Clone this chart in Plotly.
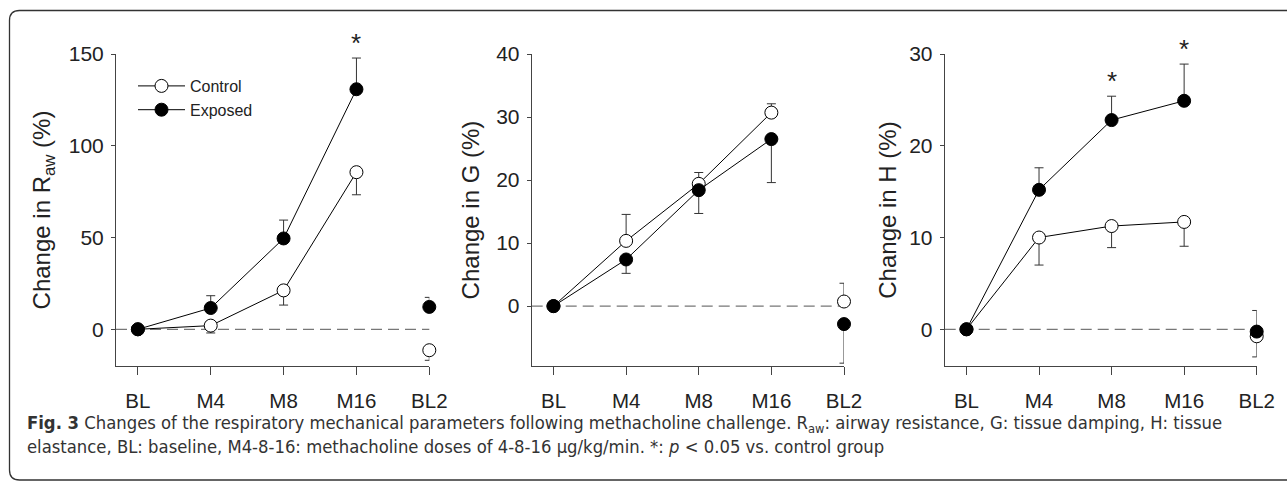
import plotly.graph_objects as go

W, H = 1287, 481

categories = ["BL", "M4", "M8", "M16", "BL2"]

# Panel 1: Raw
raw_control = [0, 2.0, 21.2, 85.6, -11.4]
raw_control_err = [0, 4.0, 8.0, 12.3, 5.5]
raw_exposed = [0, 11.6, 49.5, 130.8, 12.2]
raw_exposed_err = [0, 6.7, 10.0, 17.0, 5.2]

# Panel 2: G
g_control = [0, 10.35, 19.4, 30.7, 0.73]
g_control_err = [0, 4.2, 1.8, 1.4, 2.9]
g_exposed = [0, 7.4, 18.4, 26.5, -2.85]
g_exposed_err = [0, 2.2, 3.7, 6.9, 6.2]

# Panel 3: H
h_control = [0, 10.0, 11.25, 11.7, -0.76]
h_control_err = [0, 3.0, 2.35, 2.65, 2.25]
h_exposed = [0, 15.2, 22.8, 24.9, -0.25]
h_exposed_err = [0, 2.4, 2.6, 4.0, 2.3]

# direction of one-sided error bars: +1 up, -1 down
panels = [
    dict(c=raw_control, ce=raw_control_err, cdir=-1,
         e=raw_exposed, ee=raw_exposed_err, edir=1,
         title="Change in R<sub>aw</sub> (%)", yrange=[-20, 150],
         ticks=[0, 50, 100, 150], stars=["M16"], standoff=11),
    dict(c=g_control, ce=g_control_err, cdir=1,
         e=g_exposed, ee=g_exposed_err, edir=-1,
         title="Change in G (%)", yrange=[-9.5, 40],
         ticks=[0, 10, 20, 30, 40], stars=[], standoff=9),
    dict(c=h_control, ce=h_control_err, cdir=-1,
         e=h_exposed, ee=h_exposed_err, edir=1,
         title="Change in H (%)", yrange=[-4, 30],
         ticks=[0, 10, 20, 30], stars=["M8", "M16"], standoff=5),
]

x_domains_px = [(116, 429.3), (531.7, 844), (944.7, 1256.7)]
y_dom = [1 - 366 / H, 1 - 54 / H]

TXT = "#222222"
AX = "#444444"
FONT = "Liberation Sans, Arial, sans-serif"

fig = go.Figure()


def err_dict(err, direction):
    up = err if direction > 0 else [0] * len(err)
    dn = err if direction < 0 else [0] * len(err)
    return dict(type="data", symmetric=False, array=up, arrayminus=dn,
                color="#333333", thickness=1, width=4.5)


for i, p in enumerate(panels):
    n = "" if i == 0 else str(i + 1)
    xa, ya = "x" + n, "y" + n
    for key, ekey, dkey, name, fill in [("c", "ce", "cdir", "Control", "white"),
                                         ("e", "ee", "edir", "Exposed", "black")]:
        vals, errs, d = p[key], p[ekey], p[dkey]
        marker = dict(size=13, color=fill, line=dict(color="black", width=1))
        fig.add_trace(go.Scatter(
            x=categories[:4], y=vals[:4], mode="lines+markers",
            line=dict(color="black", width=1), marker=marker,
            error_y=err_dict(errs[:4], d), name=name, cliponaxis=False,
            showlegend=(i == 0), xaxis=xa, yaxis=ya, legendgroup=name))
        fig.add_trace(go.Scatter(
            x=categories[4:], y=vals[4:], mode="markers", marker=marker,
            error_y=err_dict(errs[4:], d), name=name, showlegend=False,
            cliponaxis=False, xaxis=xa, yaxis=ya, legendgroup=name))
    # stars
    for s in p["stars"]:
        k = categories.index(s)
        fig.add_annotation(x=s, y=p["e"][k] + p["ee"][k], xref=xa, yref=ya,
                           text="*", showarrow=False, yanchor="bottom", yshift=-2,
                           font=dict(size=26, color=TXT, family=FONT))
    # zero dashed line
    fig.add_shape(type="line", xref=xa + " domain", yref=ya, x0=0, x1=1, y0=0, y1=0,
                  line=dict(color="#777777", width=1.3, dash="11px,6px"), layer="below")

    dx0, dx1 = x_domains_px[i]
    axkey = "xaxis" + n
    aykey = "yaxis" + n
    fig.layout[axkey] = dict(
        domain=[dx0 / W, dx1 / W], anchor=ya, type="category",
        categoryorder="array", categoryarray=categories,
        range=[-0.3, 4.0], showline=True, linecolor=AX, linewidth=1,
        ticks="outside", ticklen=8, tickcolor=AX, tickwidth=1,
        showgrid=False, zeroline=False, ticklabelstandoff=8,
        tickfont=dict(size=20.5, color=TXT, family=FONT), fixedrange=True)
    fig.layout[aykey] = dict(
        domain=y_dom, anchor=xa, range=p["yrange"], showline=True,
        linecolor=AX, linewidth=1, ticks="outside", ticklen=4, tickcolor=AX,
        tickwidth=1, showgrid=False, zeroline=False, tickvals=p["ticks"],
        ticklabelstandoff=3,
        tickfont=dict(size=21, color=TXT, family=FONT),
        title=dict(text=p["title"], font=dict(size=24, color=TXT, family=FONT),
                   standoff=p["standoff"]), fixedrange=True)

# border (rounded on the left, open past the right edge)
x0, yt, yb = 9.5, 10.5, 480.0
r = 10
path = (f"M 1,{1-yt/H} L {(x0+r)/W},{1-yt/H} "
        f"Q {x0/W},{1-yt/H} {x0/W},{1-(yt+r)/H} "
        f"L {x0/W},{1-(yb-r)/H} Q {x0/W},{1-yb/H} {(x0+r)/W},{1-yb/H} "
        f"L 1,{1-yb/H}")
fig.add_shape(type="path", xref="paper", yref="paper", path=path,
              line=dict(color="#333333", width=1.3))

caption = ("<b>Fig. 3</b> Changes of the respiratory mechanical parameters following "
           "methacholine challenge. R<sub>aw</sub>: airway resistance, G: tissue damping, "
           "H: tissue<br>elastance, BL: baseline, M4-8-16: methacholine doses of 4-8-16 "
           "µg/kg/min. *: <i>p</i> &lt; 0.05 vs. control group")
fig.add_annotation(x=25 / W, y=1 - 410 / H, xref="paper", yref="paper",
                   xanchor="left", yanchor="top", align="left", showarrow=False,
                   text=caption,
                   font=dict(size=18.3, color="#333333",
                             family="Liberation Sans Narrow, DejaVu Sans Condensed, sans-serif"))

fig.update_layout(
    width=W, height=H, margin=dict(l=0, r=0, t=0, b=0, autoexpand=False),
    paper_bgcolor="white", plot_bgcolor="white",
    showlegend=True,
    legend=dict(x=133 / W, y=1 - 69 / H, xanchor="left", yanchor="top",
                itemwidth=47,
                bgcolor="rgba(0,0,0,0)", font=dict(size=16, color=TXT, family=FONT),
                tracegroupgap=0),
)

fig.write_html("out.html")
